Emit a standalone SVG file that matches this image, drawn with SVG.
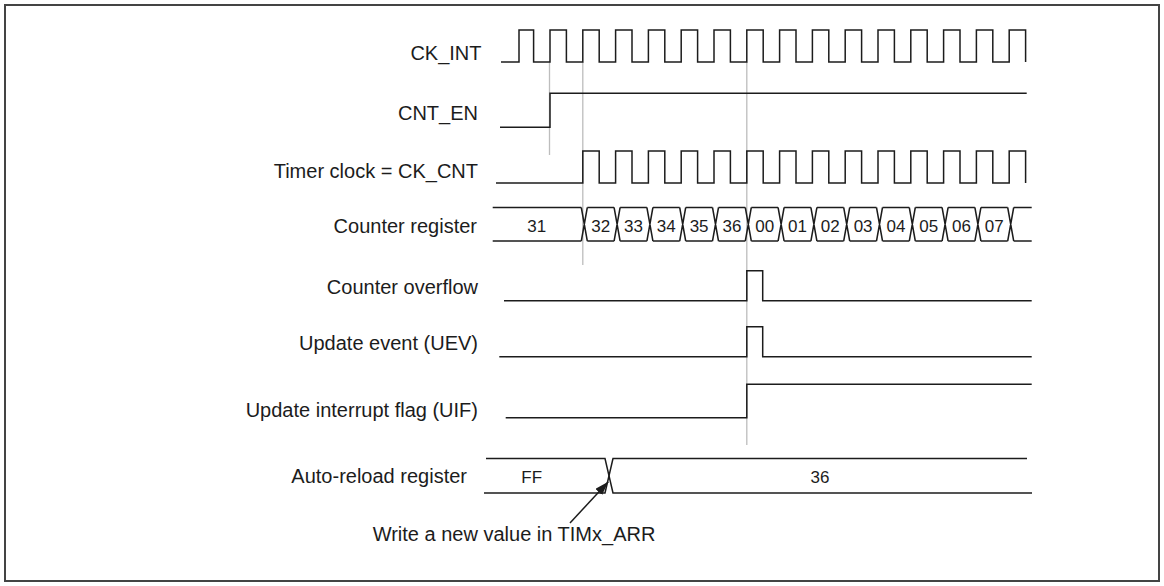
<svg xmlns="http://www.w3.org/2000/svg" xmlns:xlink="http://www.w3.org/1999/xlink" width="1164" height="586" viewBox="0 0 1164 586">
  <style>
    .lbl { font-family: "Liberation Sans", Arial, sans-serif; font-size: 20px; fill: #1c1c1c; text-anchor: end; }
    .val { font-family: "Liberation Sans", Arial, sans-serif; font-size: 17px; fill: #1c1c1c; text-anchor: middle; }
    .note { font-family: "Liberation Sans", Arial, sans-serif; font-size: 20px; fill: #1c1c1c; }
    .wave { fill: none; stroke: #1c1c1c; stroke-width: 1.5; }
    .guide { fill: none; stroke: #bdbdbd; stroke-width: 1.3; }
  </style>
  <defs>
    <marker id="ah" viewBox="0 0 14 9" refX="14" refY="4.5" markerWidth="14" markerHeight="9" markerUnits="userSpaceOnUse" orient="auto">
      <path d="M0 0 L14 4.5 L0 9 z" fill="#1c1c1c"/>
    </marker>
    <path id="busline" d="M492.7 207.5 H581.3 M587.3 207.5 H614.1 M620.1 207.5 H646.9 M652.9 207.5 H679.7 M685.7 207.5 H712.5 M718.5 207.5 H745.3 M751.3 207.5 H778.1 M784.1 207.5 H810.9 M816.9 207.5 H843.7 M849.7 207.5 H876.5 M882.5 207.5 H909.3 M915.3 207.5 H942.1 M948.1 207.5 H974.9 M980.9 207.5 H1007.7 M1013.7 207.5 H1031.7"/>
  </defs>
  <rect x="0" y="0" width="1164" height="586" fill="#ffffff"/>
  <rect id="frame" x="5" y="5" width="1154" height="576" fill="none" stroke="#444" stroke-width="2"/>

  <g id="connectors">
    <line class="guide" x1="549.5" y1="62" x2="549.5" y2="155"/>
    <line class="guide" x1="582.8" y1="62" x2="582.8" y2="265"/>
    <line class="guide" x1="746.8" y1="62" x2="746.8" y2="445"/>
    <line x1="570" y1="523" x2="608.3" y2="481.7" stroke="#1c1c1c" stroke-width="1.5" marker-end="url(#ah)"/>
  </g>

  <g id="ck_int">
    <text class="lbl" x="481.5" y="60">CK_INT</text>
    <path class="wave" d="M501 62 H519 V30 H533.6 V62 H550 V30 H566.4 V62 H582.8 V30 H599.2 V62 H615.6 V30 H632 V62 H648.4 V30 H664.8 V62 H681.2 V30 H697.6 V62 H714 V30 H730.4 V62 H746.8 V30 H763.2 V62 H779.6 V30 H796 V62 H812.4 V30 H828.8 V62 H845.2 V30 H861.6 V62 H878 V30 H894.4 V62 H910.8 V30 H927.2 V62 H943.6 V30 H960 V62 H976.4 V30 H992.8 V62 H1009.2 V30 H1025.6 V62"/>
  </g>

  <g id="cnt_en">
    <text class="lbl" x="478" y="120">CNT_EN</text>
    <path class="wave" d="M500 127.3 H550 V93.3 H1026.7"/>
  </g>

  <g id="timer_clock">
    <text class="lbl" x="478" y="178">Timer clock = CK_CNT</text>
    <path class="wave" d="M496 183 H582.8 V151 H599.2 V183 H615.6 V151 H632 V183 H648.4 V151 H664.8 V183 H681.2 V151 H697.6 V183 H714 V151 H730.4 V183 H746.8 V151 H763.2 V183 H779.6 V151 H796 V183 H812.4 V151 H828.8 V183 H845.2 V151 H861.6 V183 H878 V151 H894.4 V183 H910.8 V151 H927.2 V183 H943.6 V151 H960 V183 H976.4 V151 H992.8 V183 H1009.2 V151 H1025.6 V183"/>
  </g>

  <g id="counter_register">
    <text class="lbl" x="477" y="233">Counter register</text>
    <use xlink:href="#busline" href="#busline" class="wave"/>
    <use xlink:href="#busline" href="#busline" class="wave" y="33.5"/>
    <path class="wave" d="M581.3 207.5 L587.3 241 M581.3 241 L587.3 207.5 M614.1 207.5 L620.1 241 M614.1 241 L620.1 207.5 M646.9 207.5 L652.9 241 M646.9 241 L652.9 207.5 M679.7 207.5 L685.7 241 M679.7 241 L685.7 207.5 M712.5 207.5 L718.5 241 M712.5 241 L718.5 207.5 M745.3 207.5 L751.3 241 M745.3 241 L751.3 207.5 M778.1 207.5 L784.1 241 M778.1 241 L784.1 207.5 M810.9 207.5 L816.9 241 M810.9 241 L816.9 207.5 M843.7 207.5 L849.7 241 M843.7 241 L849.7 207.5 M876.5 207.5 L882.5 241 M876.5 241 L882.5 207.5 M909.3 207.5 L915.3 241 M909.3 241 L915.3 207.5 M942.1 207.5 L948.1 241 M942.1 241 L948.1 207.5 M974.9 207.5 L980.9 241 M974.9 241 L980.9 207.5 M1007.7 207.5 L1013.7 241 M1007.7 241 L1013.7 207.5"/>
    <text class="val" x="536.7" y="231.5">31</text>
    <text class="val" x="600.7" y="231.5">32</text>
    <text class="val" x="633.5" y="231.5">33</text>
    <text class="val" x="666.3" y="231.5">34</text>
    <text class="val" x="699.1" y="231.5">35</text>
    <text class="val" x="731.9" y="231.5">36</text>
    <text class="val" x="764.7" y="231.5">00</text>
    <text class="val" x="797.5" y="231.5">01</text>
    <text class="val" x="830.3" y="231.5">02</text>
    <text class="val" x="863.1" y="231.5">03</text>
    <text class="val" x="895.9" y="231.5">04</text>
    <text class="val" x="928.7" y="231.5">05</text>
    <text class="val" x="961.5" y="231.5">06</text>
    <text class="val" x="994.3" y="231.5">07</text>
  </g>

  <g id="counter_overflow">
    <text class="lbl" x="478" y="294">Counter overflow</text>
    <path class="wave" d="M504 300.7 H746.8 V270.7 H762.7 V300.7 H1031.7"/>
  </g>

  <g id="update_event">
    <text class="lbl" x="478" y="349.5">Update event (UEV)</text>
    <path class="wave" d="M499.3 356.7 H746.8 V326.7 H762.7 V356.7 H1031.7"/>
  </g>

  <g id="update_interrupt_flag">
    <text class="lbl" x="478" y="417">Update interrupt flag (UIF)</text>
    <path class="wave" d="M505.7 417.7 H746.8 V384.3 H1031.7"/>
  </g>

  <g id="auto_reload_register">
    <text class="lbl" x="467" y="483">Auto-reload register</text>
    <path class="wave" d="M486 458.5 H605 L613 493 H1032"/>
    <path class="wave" d="M484 493 H605 L613 458.5 H1027"/>
    <text class="val" x="531.7" y="483">FF</text>
    <text class="val" x="820" y="483">36</text>
  </g>

  <g id="note">
    <text class="note" x="372.7" y="540.5">Write a new value in TIMx_ARR</text>
  </g>
</svg>
